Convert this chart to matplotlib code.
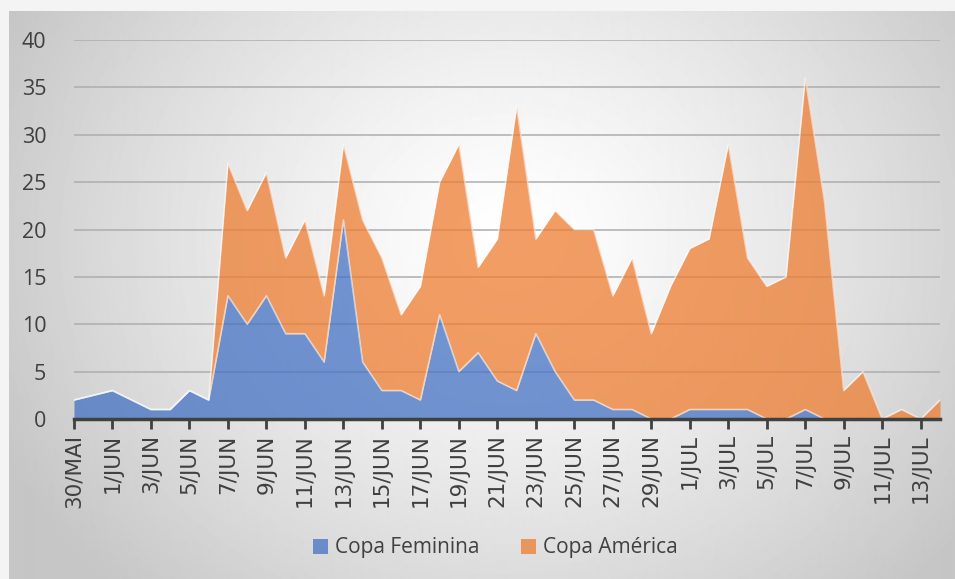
import numpy as np
import matplotlib
matplotlib.use("Agg")
import matplotlib.pyplot as plt
from matplotlib.patches import Patch

# dados: 30/MAI a 14/JUL
dias = ['30/MAI', '31/MAI'] + [f'{d}/JUN' for d in range(1, 31)] + [f'{d}/JUL' for d in range(1, 15)]
copa_feminina = [2, 2.5, 3, 2, 1, 1, 3, 2, 13, 10, 13, 9, 9, 6, 21, 6, 3, 3, 2, 11,
                 5, 7, 4, 3, 9, 5, 2, 2, 1, 1, 0, 0, 1, 1, 1, 1, 0, 0, 1, 0,
                 0, 0, 0, 0, 0, 0]
copa_america = [0, 0, 0, 0, 0, 0, 0, 0, 14, 12, 13, 8, 12, 7, 8, 15, 14, 8, 12, 14,
                24, 9, 15, 30, 10, 17, 18, 18, 12, 16, 9, 14, 17, 18, 28, 16, 14, 15, 35, 23,
                3, 5, 0, 1, 0, 2]

AZUL = '#4472C4'
LARANJA = '#ED7D31'
W, H = 955, 579

fig = plt.figure(figsize=(W / 100, H / 100), dpi=100)
fig.patch.set_facecolor('#F4F4F4')

# fundo com gradiente radial (como no Excel)
bg = fig.add_axes([9 / W, 0, 1 - 9 / W, 1 - 11 / H])
yy, xx = np.mgrid[0:H - 11, 0:W - 9]
r = np.hypot(xx - 500, (yy - 230) * 1.15) / 560
v = 255 - 57 * np.clip(r, 0, 1) ** 1.3
bg.imshow(v, cmap='gray', vmin=0, vmax=255, aspect='auto', interpolation='bilinear')
bg.axis('off')

ax = fig.add_axes([74 / W, 1 - 419 / H, (940 - 74) / W, (419 - 40) / H])
ax.patch.set_alpha(0)

x = np.arange(len(dias))
fem = np.array(copa_feminina, dtype=float)
ame = np.array(copa_america, dtype=float)

ax.fill_between(x, 0, fem, color=AZUL, alpha=0.75, lw=0, zorder=2)
ax.fill_between(x, fem, fem + ame, color=LARANJA, alpha=0.75, lw=0, zorder=2)
ax.plot(x, fem, color='white', alpha=0.55, lw=1.2, zorder=3)
ax.plot(x, fem + ame, color='white', alpha=0.55, lw=1.2, zorder=3)

ax.set_xlim(0, len(dias) - 1)
ax.set_ylim(0, 40)
ax.set_yticks(range(0, 41, 5))
ax.grid(axis='y', color='#ADADAD', lw=1.1, zorder=1)
ax.set_axisbelow(True)

ax.set_xticks(x[::2])
ax.set_xticklabels(dias[::2], rotation=90, fontsize=15.5, family='DejaVu Sans', color='#404040')
for lab in ax.get_yticklabels():
    lab.set_family('Open Sans')
ax.tick_params(axis='y', length=0, pad=20, labelsize=15.5, labelcolor='#404040')
ax.tick_params(axis='x', length=7, width=2, color='#404040', pad=4)

for s in ['top', 'right', 'left']:
    ax.spines[s].set_visible(False)
ax.spines['bottom'].set_color('#404040')
ax.spines['bottom'].set_linewidth(2.5)
ax.spines['bottom'].set_zorder(4)

handles = [Patch(facecolor=AZUL, alpha=0.75, label='Copa Feminina'),
           Patch(facecolor=LARANJA, alpha=0.75, label='Copa América')]
fig.legend(handles=handles, loc='center', bbox_to_anchor=(495 / W, 1 - 548 / H), ncol=2,
           frameon=False, prop={'family': 'Open Sans', 'size': 15}, labelcolor='#404040',
           handlelength=0.75, handleheight=0.75, handletextpad=0.3, columnspacing=2.0)

fig.savefig('out.png', dpi=100, facecolor=fig.get_facecolor())
